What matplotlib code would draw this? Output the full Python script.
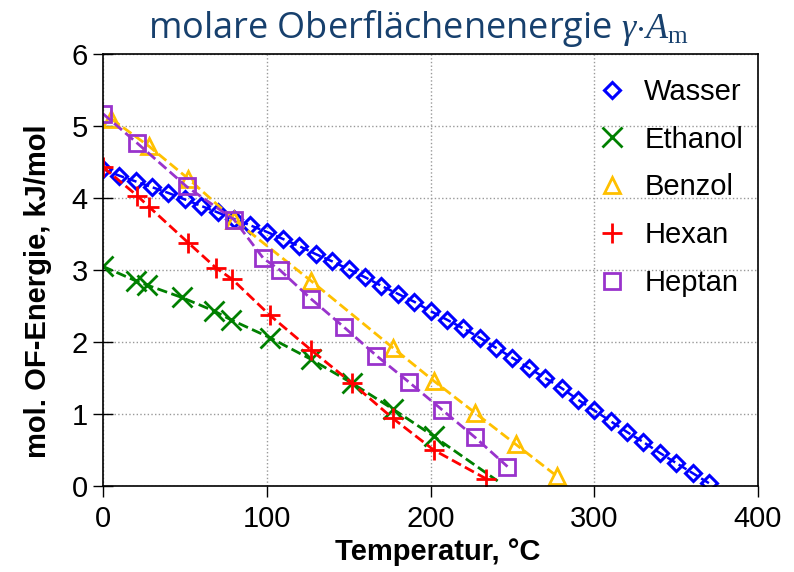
import numpy as np
import matplotlib
matplotlib.use('Agg')
import matplotlib.pyplot as plt

plt.rcParams['font.family'] = ['Liberation Sans', 'DejaVu Sans']
plt.rcParams['mathtext.fontset'] = 'custom'
plt.rcParams['mathtext.rm'] = 'Liberation Serif'
plt.rcParams['mathtext.it'] = 'Liberation Serif:italic'

# Wasser, every 10 °C
t_wasser = np.arange(0, 380, 10)
e_wasser = [4.40, 4.31, 4.23, 4.15, 4.07, 3.98, 3.89, 3.80, 3.71, 3.62,
            3.53, 3.43, 3.33, 3.22, 3.12, 3.01, 2.90, 2.78, 2.67, 2.56,
            2.43, 2.31, 2.19, 2.06, 1.92, 1.78, 1.64, 1.50, 1.36, 1.20,
            1.05, 0.90, 0.75, 0.61, 0.46, 0.32, 0.18, 0.04]

# Ethanol (last point = end of line, no marker)
t_ethanol = [0, 20, 27, 48, 68, 78, 102, 127, 152, 177, 202, 241]
e_ethanol = [3.05, 2.85, 2.79, 2.62, 2.43, 2.31, 2.06, 1.76, 1.43, 1.07, 0.69, 0.07]

t_benzol = [5, 28, 52, 80, 127, 177, 202, 227, 252, 277]
e_benzol = [5.10, 4.72, 4.27, 3.70, 2.85, 1.92, 1.46, 1.02, 0.58, 0.14]

t_hexan = [0, 21, 28, 52, 69, 79, 102, 127, 152, 177, 202, 234]
e_hexan = [4.43, 4.03, 3.88, 3.38, 3.03, 2.87, 2.37, 1.89, 1.43, 0.94, 0.50, 0.10]

t_heptan = [0, 21, 51, 80, 98, 108, 127, 147, 167, 187, 207, 227, 247]
e_heptan = [5.17, 4.76, 4.16, 3.70, 3.16, 3.00, 2.60, 2.21, 1.81, 1.44, 1.06, 0.68, 0.27]

fig = plt.figure(figsize=(7.94, 5.72), dpi=100)
ax = fig.add_axes([0.1297, 0.1503, 0.825, 0.7553])

ax.plot(t_wasser, e_wasser, '--', color='#0000FF', lw=1.8, marker='D', ms=8,
        mfc='none', mew=2.2, label='Wasser')
ax.plot(t_ethanol, e_ethanol, '--', color='#008000', lw=2, marker='x', ms=14,
        mew=2, markevery=list(range(len(t_ethanol) - 1)), label='Ethanol')
ax.plot(t_benzol, e_benzol, '--', color='#FFC000', lw=2, marker='^', ms=12,
        mfc='none', mew=2, label='Benzol')
ax.plot(t_hexan, e_hexan, '--', color='#FF0000', lw=2, marker='+', ms=15,
        mew=2, label='Hexan')
ax.plot(t_heptan, e_heptan, '--', color='#9933CC', lw=2, marker='s', ms=12,
        mfc='none', mew=2, label='Heptan')

ax.set_xlim(0, 400)
ax.set_ylim(0, 6)
ax.set_xticks([0, 100, 200, 300, 400])
ax.set_yticks(range(7))
ax.grid(True, color='#999999', ls=':', lw=1)
ax.tick_params(axis='x', direction='out', length=8, width=1, labelsize=21, pad=6)
ax.tick_params(axis='y', direction='inout', length=14, width=1, labelsize=21, pad=4)
for s in ax.spines.values():
    s.set_linewidth(1.2)

ax.set_xlabel('Temperatur, °C', fontsize=21, fontweight='bold')
ax.set_ylabel('mol. OF-Energie, kJ/mol', fontsize=21, fontweight='bold')
ax.xaxis.set_label_coords(0.511, -0.12)
ax.yaxis.set_label_coords(-0.078, 0.45)

leg = ax.legend(loc='upper right', frameon=False, fontsize=21, handlelength=0.7,
                handletextpad=0.75, labelspacing=0.68, borderaxespad=0.0,
                bbox_to_anchor=(0.995, 0.972))
for h in leg.legend_handles:
    h.set_linestyle('none')

fig.text(0.527, 0.951, r'molare Oberflächenenergie $\gamma{\cdot}A_\mathrm{m}$',
         ha='center', va='center', fontsize=26, color='#17406D',
         family=['Open Sans', 'DejaVu Sans'])

fig.savefig('out.png', dpi=100)
